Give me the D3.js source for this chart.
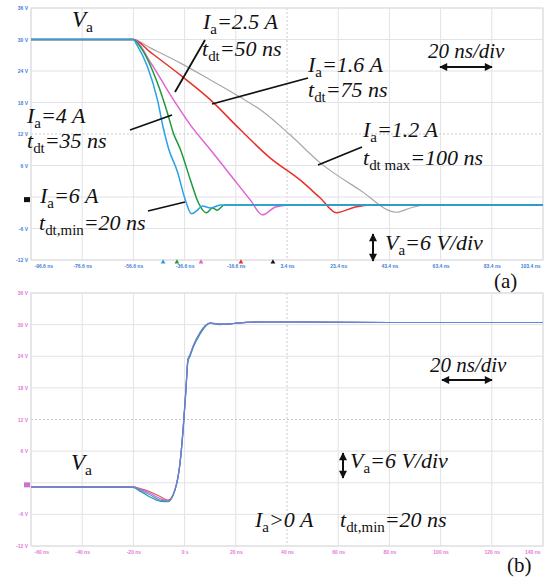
<!DOCTYPE html>
<html>
<head>
<meta charset="utf-8">
<script src="https://cdn.jsdelivr.net/npm/d3@7"></script>
<style>
  body { margin: 0; background: #fff; }
  svg { display: block; }
</style>
</head>
<body>
<div class="canva"></div>
<script>
// ---- data ----
// panel (a) tick labels
const timeTicksA = [-96.6, -76.6, -56.6, -36.6, -16.6, 3.4, 23.4, 43.4, 63.4, 83.4, 103.4];
// panel (b) tick labels
const timeTicksB = [-60, -40, -20, 0, 20, 40, 60, 80, 100, 120, 140];
const voltTicks = [36, 30, 24, 18, 12, 6, 0, -6, -12];

// panel (a) turn-off curves (ns, V)
const t6A = [-96.6, -56.6, -55.4, -51.1, -47.2, -44.9, -42.9, -39.4, -36.3, -33.9, -31.6, -29.6, -26.5, -22.6, 103.4];
const v6A = [30, 30, 29.1, 24.8, 18.5, 13.1, 9.3, 4.8, -0.6, -3.2, -2.5, -1.7, -2.1, -1.5, -1.5];
const t4A = [-96.6, -56.6, -53.9, -47.2, -43.3, -41.0, -38.2, -34.3, -31.2, -28.1, -25.7, -23.8, -21.1, 103.4];
const v4A = [30, 30, 28.6, 21.7, 16.0, 12.2, 9.0, 3.2, -1.1, -3.0, -2.1, -2.5, -1.5, -1.5];
const t25A = [-96.6, -56.6, -50.0, -42.1, -34.3, -26.5, -18.7, -10.9, -6.2, -1.1, 4.7, 103.4];
const v25A = [30, 30, 25.7, 19.4, 13.7, 9.0, 4.2, -0.6, -3.4, -1.9, -1.5, -1.5];
const t16A = [-96.6, -56.6, -50.0, -38.2, -26.5, -14.8, -3.1, 8.6, 16.4, 22.7, 30.1, 36.0, 103.4];
const v16A = [30, 30, 27.6, 23.2, 18.5, 12.8, 7.4, 3.2, -0.2, -3.0, -1.9, -1.5, -1.5];
const t12A = [-96.6, -56.6, -50.0, -38.2, -26.5, -14.8, -7.0, 4.7, 16.4, 32.0, 46.1, 51.6, 57.4, 103.4];
const v12A = [30, 30, 28.4, 25.5, 22.3, 19.0, 16.6, 11.8, 6.5, 1.3, -2.9, -2.1, -1.5, -1.5];

// markers on the bottom edge of (a)
const markTimesA = [-45.0, -39.6, -30.2, -14.6, -2.1];
const markColorsA = ['#2aa0e6', '#1e9a3c', '#e060d0', '#e8302a', '#111'];

// panel (b) turn-on curves (ns, V)
const tB = [-60, -20.2, -17.4, -13.5, -9.6, -6.5, -3.8, -1.8, -0.6, 0.5, 1.3, 2.1, 3.3, 6.0, 8.0, 9.9, 13.8, 16.6, 20.5, 29.5, 45.1, 80, 140];
const vBred = [-0.8, -0.8, -1.1, -1.7, -2.6, -3.3, -1.4, 3.7, 10.0, 17.6, 23.3, 24.2, 25.8, 28.4, 29.7, 30.3, 30.1, 30.1, 30.3, 30.5, 30.5, 30.4, 30.4];
const vBgreen = [-0.8, -0.9, -1.6, -2.7, -3.5, -3.6, -1.5, 3.6, 9.8, 17.4, 23.0, 24.0, 25.6, 28.2, 29.6, 30.3, 30.0, 30.1, 30.3, 30.5, 30.5, 30.4, 30.4];
const vBpurple = [-0.8, -0.8, -1.2, -2.0, -3.0, -3.5, -1.3, 3.8, 10.2, 17.7, 23.4, 24.3, 25.9, 28.5, 29.8, 30.3, 30.1, 30.1, 30.3, 30.5, 30.5, 30.4, 30.4];
const vBblue = [-0.8, -0.8, -1.4, -2.3, -3.3, -3.5, -1.4, 3.7, 10.0, 17.6, 23.3, 24.2, 25.8, 28.4, 29.7, 30.3, 30.1, 30.1, 30.3, 30.5, 30.5, 30.4, 30.4];

// ---- drawing ----
const svg = d3.select('.canva').append('svg')
  .attr('width', 550)
  .attr('height', 579)
  .style('font-family', '"Liberation Serif", "Times New Roman", serif');

const defs = svg.append('defs');
defs.append('marker')
  .attr('id', 'arr')
  .attr('viewBox', '0 0 10 10')
  .attr('refX', 9).attr('refY', 5)
  .attr('markerWidth', 9).attr('markerHeight', 8)
  .attr('markerUnits', 'userSpaceOnUse')
  .attr('orient', 'auto-start-reverse')
  .append('path')
  .attr('d', 'M0,0 L10,5 L0,10 z')
  .attr('fill', '#111');

function panel(cfg) {
  const x = d3.scaleLinear().domain(cfg.xDomain).range([31, 543]);
  const y = d3.scaleLinear().domain([-12, 36]).range([cfg.bottom, cfg.top]);
  const g = svg.append('g');

  // grid
  g.selectAll('.vg').data(cfg.xTicks).enter().append('line')
    .attr('x1', d => x(d)).attr('x2', d => x(d))
    .attr('y1', cfg.top).attr('y2', cfg.bottom)
    .attr('stroke', (d, i) => i === 5 ? '#c8c8d0' : '#e2e2e8')
    .attr('stroke-dasharray', (d, i) => i === 5 ? '2,2' : null)
    .attr('stroke-width', 1);
  g.selectAll('.hg').data(voltTicks).enter().append('line')
    .attr('x1', 31).attr('x2', 543)
    .attr('y1', d => y(d)).attr('y2', d => y(d))
    .attr('stroke', d => d === 12 ? '#c8c8d0' : '#e2e2e8')
    .attr('stroke-dasharray', d => d === 12 ? '2,2' : null)
    .attr('stroke-width', 1);
  g.append('rect')
    .attr('x', 31).attr('y', cfg.top)
    .attr('width', 512).attr('height', cfg.bottom - cfg.top)
    .attr('fill', 'none').attr('stroke', '#dcdce2');

  // axes (tiny scope labels)
  const xAxis = d3.axisBottom(x).tickValues(cfg.xTicks).tickSize(0).tickPadding(4)
    .tickFormat(cfg.xFormat);
  const xg = g.append('g').attr('transform', `translate(0,${cfg.bottom})`).call(xAxis);
  const yAxis = d3.axisLeft(y).tickValues(voltTicks.filter(v => v !== 0)).tickSize(0).tickPadding(3)
    .tickFormat(d => d + ' V');
  const yg = g.append('g').attr('transform', 'translate(31,0)').call(yAxis);
  [xg, yg].forEach(a => {
    a.select('.domain').remove();
    a.selectAll('text')
      .attr('fill', cfg.labelColor)
      .style('font-family', 'Arial, "Liberation Sans", sans-serif')
      .style('font-size', '5px')
      .style('font-weight', 'bold');
  });
  const n = cfg.xTicks.length;
  xg.selectAll('.tick text')
    .attr('text-anchor', (d, i) => i === 0 ? 'start' : (i === n - 1 ? 'end' : 'middle'))
    .attr('dx', (d, i) => i === 0 ? 3 : (i === n - 1 ? -3 : 0));

  // ground marker
  g.append('rect')
    .attr('x', 24).attr('y', y(cfg.groundV) - 2.5)
    .attr('width', 6).attr('height', 5)
    .attr('fill', cfg.groundColor);

  const line = d3.line().x(d => x(d[0])).y(d => y(d[1])).curve(d3.curveMonotoneX);
  cfg.series.forEach(s => {
    g.append('path')
      .datum(d3.zip(s.t, s.v))
      .attr('d', line)
      .attr('fill', 'none')
      .attr('stroke', s.color)
      .attr('stroke-width', s.w || 1.5);
  });
  return {g, x, y};
}

const pa = panel({
  top: 8, bottom: 260,
  xDomain: [-96.6, 103.4],
  xTicks: timeTicksA,
  xFormat: d => d.toFixed(1) + ' ns',
  labelColor: '#3f7fd6',
  groundV: -0.5, groundColor: '#111',
  series: [
    {t: t12A, v: v12A, color: '#a8a8a8', w: 1.2},
    {t: t16A, v: v16A, color: '#e8302a'},
    {t: t25A, v: v25A, color: '#e064d4'},
    {t: t4A, v: v4A, color: '#1e9a3c'},
    {t: t6A, v: v6A, color: '#2aa0e6'}
  ]
});

// trigger markers on (a)
pa.g.selectAll('.mk').data(markTimesA).enter().append('path')
  .attr('d', d3.symbol().type(d3.symbolTriangle).size(10))
  .attr('transform', d => `translate(${pa.x(d)},${262})`)
  .attr('fill', (d, i) => markColorsA[i]);

const pb = panel({
  top: 293, bottom: 546,
  xDomain: [-60, 140],
  xTicks: timeTicksB,
  xFormat: d => d === 0 ? '0 s' : d + ' ns',
  labelColor: '#e27ad6',
  groundV: -0.4, groundColor: '#d070c8',
  series: [
    {t: tB, v: vBred, color: '#e0584e', w: 1.2},
    {t: tB, v: vBgreen, color: '#1aa08a', w: 1.2},
    {t: tB, v: vBpurple, color: '#b070e0', w: 1.2},
    {t: tB, v: vBblue, color: '#5a86d8', w: 1.1}
  ]
});

// ---- annotations ----
function label(xp, yp, parts, size) {
  size = size || 22;
  const t = svg.append('text').attr('x', xp).attr('y', yp)
    .style('font-size', size + 'px').attr('fill', '#111');
  let shifted = 0;
  parts.forEach(p => {
    const sub = p[1] === 'sub';
    const dy = sub ? 5 - shifted : -shifted;
    shifted = sub ? 5 : 0;
    t.append('tspan')
      .attr('dy', dy)
      .style('font-style', sub || p[1] === 'n' ? 'normal' : 'italic')
      .style('font-size', sub ? (size * 0.68) + 'px' : null)
      .text(p[0]);
  });
}
function lead(x1, y1, x2, y2) {
  svg.append('line').attr('x1', x1).attr('y1', y1).attr('x2', x2).attr('y2', y2)
    .attr('stroke', '#111').attr('stroke-width', 1.8);
}
function arrow(x1, y1, x2, y2) {
  svg.append('line').attr('x1', x1).attr('y1', y1).attr('x2', x2).attr('y2', y2)
    .attr('stroke', '#111').attr('stroke-width', 2)
    .attr('marker-start', 'url(#arr)').attr('marker-end', 'url(#arr)');
}

// (a)
label(72, 27, [['V'], ['a', 'sub']], 23);
label(203, 29, [['I'], ['a', 'sub'], ['=2.5 A']]);
label(202, 56, [['t'], ['dt', 'sub'], ['=50 ns']]);
lead(205, 40, 175, 92);
label(308, 72, [['I'], ['a', 'sub'], ['=1.6 A']]);
label(308, 97, [['t'], ['dt', 'sub'], ['=75 ns']]);
lead(308, 78, 212, 104);
label(27, 123, [['I'], ['a', 'sub'], ['=4 A']]);
label(27, 148, [['t'], ['dt', 'sub'], ['=35 ns']]);
lead(130, 130, 172, 115);
label(40, 203, [['I'], ['a', 'sub'], ['=6 A']]);
label(39, 230, [['t'], ['dt,min', 'sub'], ['=20 ns']]);
lead(148, 211, 185, 202);
label(363, 137, [['I'], ['a', 'sub'], ['=1.2 A']]);
label(363, 165, [['t'], ['dt max', 'sub'], ['=100 ns']]);
lead(362, 147, 318, 165);
label(428, 58, [['20 ns/div']], 21);
arrow(440, 67, 492, 67);
arrow(373, 234, 373, 261);
label(385, 250, [['V'], ['a', 'sub'], ['=6 V/div']]);
label(494, 288, [['(a)', 'n']], 21);

// (b)
label(71, 470, [['V'], ['a', 'sub']], 23);
label(430, 372, [['20 ns/div']], 21);
arrow(442, 380, 492, 380);
arrow(343, 453, 343, 478);
label(350, 468, [['V'], ['a', 'sub'], ['=6 V/div']]);
label(255, 527, [['I'], ['a', 'sub'], ['>0 A']]);
label(340, 527, [['t'], ['dt,min', 'sub'], ['=20 ns']]);
label(507, 572, [['(b)', 'n']], 21);
</script>
</body>
</html>
